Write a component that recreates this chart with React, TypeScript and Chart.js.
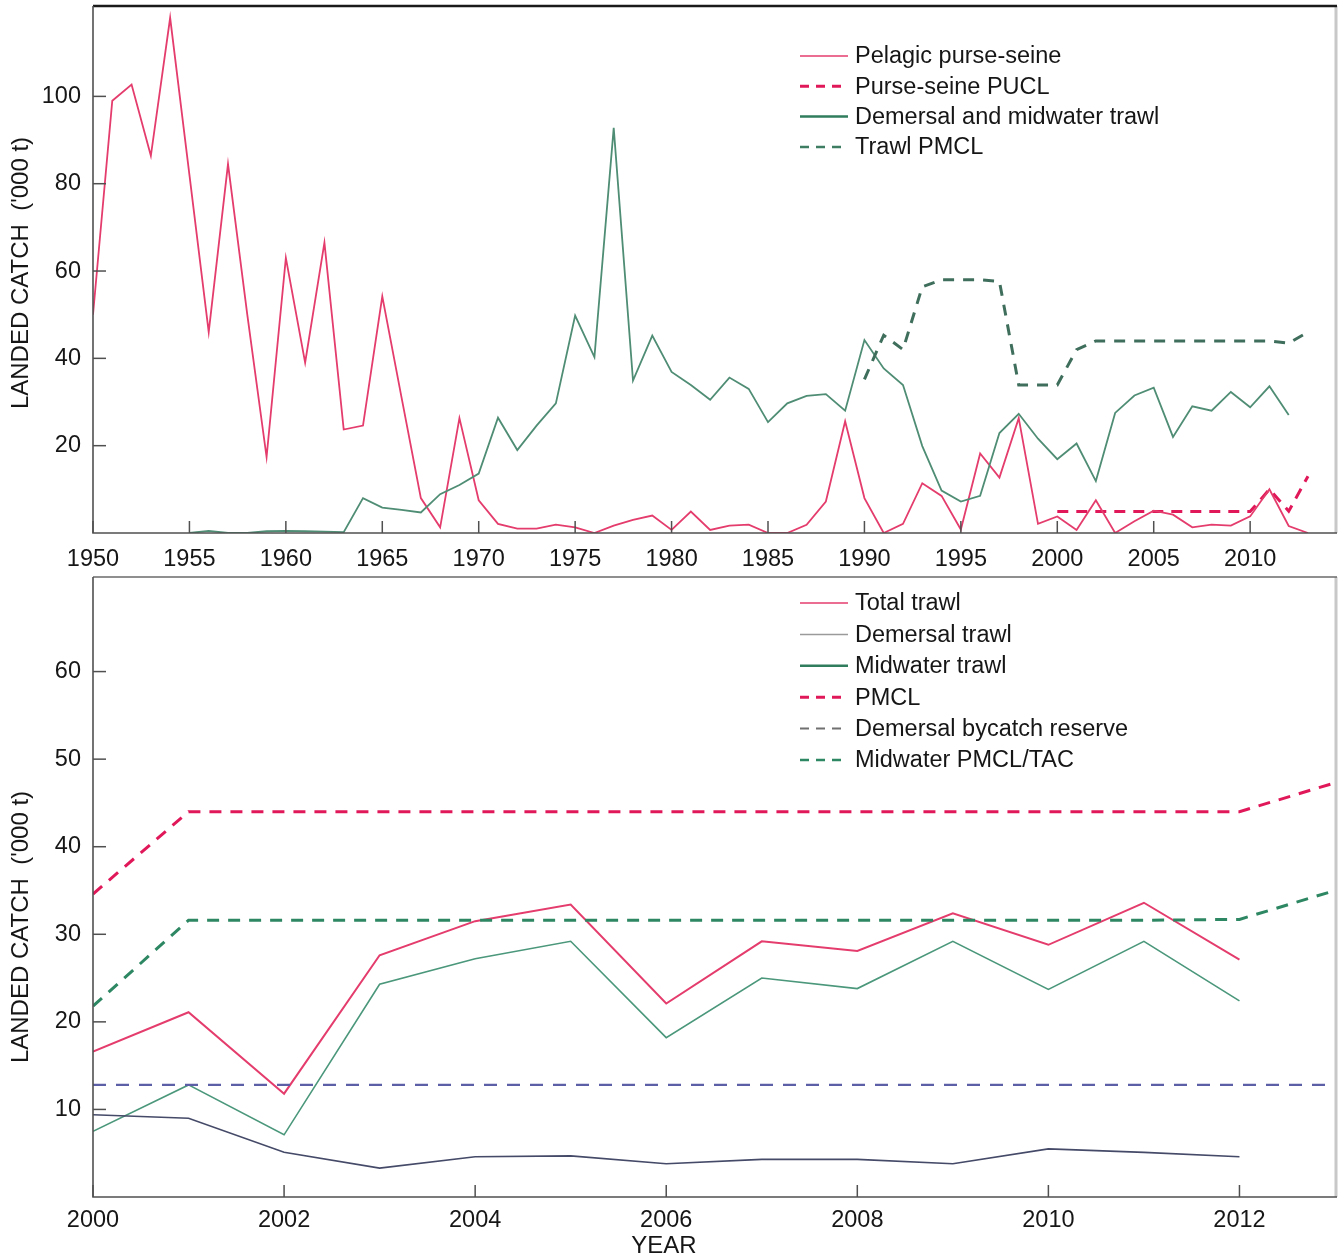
import React, { useEffect, useRef } from 'react';
import { Chart, registerables } from 'chart.js';

Chart.register(...registerables);

// ---------- Top panel data (1950-2013) ----------
const TOP_YEARS = [
  1950, 1951, 1952, 1953, 1954, 1955, 1956, 1957, 1958, 1959,
  1960, 1961, 1962, 1963, 1964, 1965, 1966, 1967, 1968, 1969,
  1970, 1971, 1972, 1973, 1974, 1975, 1976, 1977, 1978, 1979,
  1980, 1981, 1982, 1983, 1984, 1985, 1986, 1987, 1988, 1989,
  1990, 1991, 1992, 1993, 1994, 1995, 1996, 1997, 1998, 1999,
  2000, 2001, 2002, 2003, 2004, 2005, 2006, 2007, 2008, 2009,
  2010, 2011, 2012, 2013,
];
const PELAGIC = [
  50, 99, 102.7, 86.4, 118, 82, 46, 84.5, 50, 17.4,
  63, 39, 66.5, 23.7, 24.6, 54.2, 31, 8, 1.3, 26.3,
  7.5, 2.1, 1, 1, 1.9, 1.3, 0, 1.7, 3, 4,
  0.7, 4.9, 0.7, 1.7, 1.9, 0, 0, 1.9, 7.2, 25.6,
  8, 0, 2.1, 11.4, 8.5, 0.8, 18.2, 12.7, 26.3, 2.1,
  3.8, 0.7, 7.5, 0, 2.7, 5.1, 4.2, 1.3, 1.9, 1.7,
  3.8, 10, 1.6, 0,
];
const TRAWL = [
  null, null, null, null, null, 0, 0.5, 0, 0, 0.4,
  0.5, 0.4, 0.3, 0.2, 8, 5.8, 5.3, 4.7, 8.9, 11,
  13.6, 26.4, 19, 24.6, 29.7, 49.8, 40.3, 92.8, 34.9, 45.2,
  36.9, 33.9, 30.5, 35.6, 33, 25.4, 29.7, 31.4, 31.8, 28,
  44.2, 37.7, 33.9, 19.9, 9.7, 7.2, 8.5, 22.9, 27.3, 21.6,
  16.9, 20.5, 11.9, 27.5, 31.5, 33.3, 22, 29, 28, 32.3,
  28.8, 33.6, 27, null,
];
const PUCL_YEARS = [2000, 2001, 2002, 2003, 2004, 2005, 2006, 2007, 2008, 2009, 2010, 2011, 2012, 2013];
const PUCL = [4.9, 4.9, 4.9, 4.9, 4.9, 4.9, 4.9, 4.9, 4.9, 4.9, 4.9, 10, 5, 13];
const TRAWL_PMCL_YEARS = [
  1990, 1991, 1992, 1993, 1994, 1995, 1996, 1997, 1998, 1999,
  2000, 2001, 2002, 2003, 2004, 2005, 2006, 2007, 2008, 2009,
  2010, 2011, 2012, 2013,
];
const TRAWL_PMCL = [
  35.2, 45.3, 42, 56.4, 58, 58, 58, 57.6, 33.9, 33.9,
  33.9, 42, 44, 44, 44, 44, 44, 44, 44, 44,
  44, 44, 43.5, 46,
];
const TOP_X_TICKS = [1950, 1955, 1960, 1965, 1970, 1975, 1980, 1985, 1990, 1995, 2000, 2005, 2010];
const TOP_Y_TICKS = [20, 40, 60, 80, 100];

// ---------- Bottom panel data (2000-2013) ----------
const BOT_YEARS = [2000, 2001, 2002, 2003, 2004, 2005, 2006, 2007, 2008, 2009, 2010, 2011, 2012, 2013];
const TOTAL_TRAWL = [16.6, 21.1, 11.8, 27.6, 31.5, 33.4, 22.1, 29.2, 28.1, 32.4, 28.8, 33.6, 27.1, null];
const DEMERSAL_TRAWL = [9.4, 9.0, 5.1, 3.3, 4.6, 4.7, 3.8, 4.3, 4.3, 3.8, 5.5, 5.1, 4.6, null];
const MIDWATER_TRAWL = [7.5, 12.8, 7.1, 24.3, 27.2, 29.2, 18.2, 25.0, 23.8, 29.2, 23.7, 29.2, 22.4, null];
const PMCL = [34.6, 44, 44, 44, 44, 44, 44, 44, 44, 44, 44, 44, 44, 47.3];
const BYCATCH_RESERVE = [12.8, 12.8, 12.8, 12.8, 12.8, 12.8, 12.8, 12.8, 12.8, 12.8, 12.8, 12.8, 12.8, 12.8];
const MIDWATER_PMCL = [21.8, 31.6, 31.6, 31.6, 31.6, 31.6, 31.6, 31.6, 31.6, 31.6, 31.6, 31.6, 31.7, 35];
const BOT_X_TICKS = [2000, 2002, 2004, 2006, 2008, 2010, 2012];
const BOT_Y_TICKS = [10, 20, 30, 40, 50, 60];

const FONT = "'Liberation Sans', Arial, Helvetica, sans-serif";
const TEXT = '#161616';

const pts = (xs: number[], ys: (number | null)[]) => xs.map((x, i) => ({ x, y: ys[i] }));

type LegendItem = { label: string; color: string; width: number; dash: number[] };

function makePlugin(cfg: {
  legend: LegendItem[];
  legendY: number;
  legendDy: number;
  yTitleY: number;
  xTitle?: string;
  xTitleY?: number;
  topColor: string;
  topWidth: number;
}) {
  return {
    id: 'decor',
    afterDraw(chart: any) {
      const { ctx, chartArea: a, scales } = chart;
      ctx.save();
      // frame
      ctx.lineCap = 'butt';
      ctx.strokeStyle = '#c8c8c8';
      ctx.lineWidth = 3;
      ctx.beginPath();
      ctx.moveTo(a.right + 1, a.top);
      ctx.lineTo(a.right + 1, a.bottom);
      ctx.stroke();
      ctx.strokeStyle = cfg.topColor;
      ctx.lineWidth = cfg.topWidth;
      ctx.beginPath();
      ctx.moveTo(a.left, a.top);
      ctx.lineTo(a.right + 2, a.top);
      ctx.stroke();
      ctx.strokeStyle = '#505050';
      ctx.lineWidth = 1.6;
      ctx.beginPath();
      ctx.moveTo(a.left, a.top);
      ctx.lineTo(a.left, a.bottom);
      ctx.lineTo(a.right + 2, a.bottom);
      ctx.stroke();
      // inward ticks
      ctx.lineWidth = 1.5;
      scales.x.ticks.forEach((t: any) => {
        const px = scales.x.getPixelForValue(t.value);
        ctx.beginPath();
        ctx.moveTo(px, a.bottom);
        ctx.lineTo(px, a.bottom - 12);
        ctx.stroke();
      });
      scales.y.ticks.forEach((t: any) => {
        const py = scales.y.getPixelForValue(t.value);
        ctx.beginPath();
        ctx.moveTo(a.left, py);
        ctx.lineTo(a.left + 13, py);
        ctx.stroke();
      });
      // y title
      ctx.fillStyle = TEXT;
      ctx.font = `24px ${FONT}`;
      ctx.textAlign = 'center';
      ctx.textBaseline = 'middle';
      ctx.save();
      ctx.translate(21, cfg.yTitleY);
      ctx.rotate(-Math.PI / 2);
      ctx.fillText("LANDED CATCH  ('000 t)", 0, 0);
      ctx.restore();
      if (cfg.xTitle) {
        ctx.fillText(cfg.xTitle, (a.left + a.right) / 2 - 50, cfg.xTitleY);
      }
      // legend
      ctx.font = `23.5px ${FONT}`;
      ctx.textAlign = 'left';
      cfg.legend.forEach((it, i) => {
        const y = cfg.legendY + i * cfg.legendDy;
        ctx.strokeStyle = it.color;
        ctx.lineWidth = it.width;
        ctx.setLineDash(it.dash);
        ctx.beginPath();
        ctx.moveTo(800, y);
        ctx.lineTo(848, y);
        ctx.stroke();
        ctx.setLineDash([]);
        ctx.fillStyle = TEXT;
        ctx.fillText(it.label, 855, y + 1);
      });
      ctx.restore();
    },
  };
}

function zeroPad(s: any) {
  s.paddingTop = 0;
  s.paddingBottom = 0;
  s.paddingLeft = 0;
  s.paddingRight = 0;
}

function baseOptions(o: {
  xmin: number; xmax: number; ymax: number; xTicks: number[]; yTicks: number[];
  padTop: number; xHeight: number; xPad: number;
}) {
  return {
    responsive: false,
    animation: false,
    devicePixelRatio: 1,
    layout: { padding: { top: o.padTop, right: 5, left: 0, bottom: 0 } },
    plugins: { legend: { display: false }, tooltip: { enabled: false } },
    elements: { point: { radius: 0 }, line: { tension: 0 } },
    scales: {
      x: {
        type: 'linear',
        min: o.xmin,
        max: o.xmax,
        grid: { display: false, drawTicks: false },
        border: { display: false },
        afterBuildTicks: (s: any) => { s.ticks = o.xTicks.map((v) => ({ value: v })); },
        afterFit: (s: any) => { s.height = o.xHeight; zeroPad(s); },
        ticks: {
          autoSkip: false, maxRotation: 0, padding: o.xPad,
          color: TEXT, font: { family: FONT, size: 23.5 },
          callback: (v: any) => String(v),
        },
      },
      y: {
        type: 'linear',
        min: 0,
        max: o.ymax,
        grid: { display: false, drawTicks: false },
        border: { display: false },
        afterBuildTicks: (s: any) => { s.ticks = o.yTicks.map((v) => ({ value: v })); },
        afterFit: (s: any) => { s.width = 93; zeroPad(s); },
        ticks: {
          padding: 12, color: TEXT, font: { family: FONT, size: 23.5 },
          callback: (v: any) => String(v),
        },
      },
    },
  };
}

const RED = '#e43c6c';
const RED_D = '#e0185a';
const GREEN = '#4f8d75';
const GREEN_D = '#3f6f5c';

export default function App() {
  const topRef = useRef<HTMLCanvasElement>(null);
  const botRef = useRef<HTMLCanvasElement>(null);

  useEffect(() => {
    const top = new Chart(topRef.current as HTMLCanvasElement, {
      type: 'line',
      data: {
        datasets: [
          { label: 'Trawl PMCL', data: pts(TRAWL_PMCL_YEARS, TRAWL_PMCL), borderColor: GREEN_D, borderWidth: 3, borderDash: [11, 9] },
          { label: 'Demersal and midwater trawl', data: pts(TOP_YEARS, TRAWL), borderColor: GREEN, borderWidth: 1.8 },
          { label: 'Pelagic purse-seine', data: pts(TOP_YEARS, PELAGIC), borderColor: RED, borderWidth: 1.8 },
          { label: 'Purse-seine PUCL', data: pts(PUCL_YEARS, PUCL), borderColor: RED_D, borderWidth: 3, borderDash: [11, 8] },
        ],
      },
      options: baseOptions({
        xmin: 1950, xmax: 2014.4, ymax: 120.7, xTicks: TOP_X_TICKS, yTicks: TOP_Y_TICKS,
        padTop: 6, xHeight: 37, xPad: 12,
      }) as any,
      plugins: [
        makePlugin({
          legend: [
            { label: 'Pelagic purse-seine', color: RED, width: 1.5, dash: [] },
            { label: 'Purse-seine PUCL', color: RED_D, width: 3, dash: [9, 7] },
            { label: 'Demersal and midwater trawl', color: '#2f7d5c', width: 2.5, dash: [] },
            { label: 'Trawl PMCL', color: '#3f7d63', width: 2.5, dash: [9, 7] },
          ],
          legendY: 56,
          legendDy: 30.3,
          yTitleY: 273,
          topColor: '#1a1a1a',
          topWidth: 2.5,
        }),
      ],
    });

    const bot = new Chart(botRef.current as HTMLCanvasElement, {
      type: 'line',
      data: {
        datasets: [
          { label: 'Demersal bycatch reserve', data: pts(BOT_YEARS, BYCATCH_RESERVE), borderColor: '#5c5fa6', borderWidth: 2.2, borderDash: [13, 10] },
          { label: 'Midwater PMCL/TAC', data: pts(BOT_YEARS, MIDWATER_PMCL), borderColor: '#2e8763', borderWidth: 3, borderDash: [12, 9] },
          { label: 'PMCL', data: pts(BOT_YEARS, PMCL), borderColor: RED_D, borderWidth: 3, borderDash: [12, 9] },
          { label: 'Demersal trawl', data: pts(BOT_YEARS, DEMERSAL_TRAWL), borderColor: '#454a68', borderWidth: 1.6 },
          { label: 'Midwater trawl', data: pts(BOT_YEARS, MIDWATER_TRAWL), borderColor: '#4a977b', borderWidth: 1.6 },
          { label: 'Total trawl', data: pts(BOT_YEARS, TOTAL_TRAWL), borderColor: RED, borderWidth: 2 },
        ],
      },
      options: baseOptions({
        xmin: 2000, xmax: 2013, ymax: 70.8, xTicks: BOT_X_TICKS, yTicks: BOT_Y_TICKS,
        padTop: 7, xHeight: 59, xPad: 9,
      }) as any,
      plugins: [
        makePlugin({
          legend: [
            { label: 'Total trawl', color: RED, width: 1.5, dash: [] },
            { label: 'Demersal trawl', color: '#9a9a9a', width: 1.5, dash: [] },
            { label: 'Midwater trawl', color: '#2f7d5c', width: 2.5, dash: [] },
            { label: 'PMCL', color: RED_D, width: 3, dash: [9, 7] },
            { label: 'Demersal bycatch reserve', color: '#707070', width: 2, dash: [9, 7] },
            { label: 'Midwater PMCL/TAC', color: '#2e8763', width: 2.5, dash: [9, 7] },
          ],
          legendY: 33,
          legendDy: 31.4,
          yTitleY: 357,
          xTitle: 'YEAR',
          xTitleY: 676,
          topColor: '#6a6a6a',
          topWidth: 1.5,
        }),
      ],
    });

    return () => {
      top.destroy();
      bot.destroy();
    };
  }, []);

  return (
    <div style={{ position: 'absolute', left: 0, top: 0, width: 1340, height: 1256, background: '#ffffff', overflow: 'hidden' }}>
      <canvas ref={topRef} width={1340} height={570} style={{ position: 'absolute', left: 0, top: 0, width: 1340, height: 570 }} />
      <canvas ref={botRef} width={1340} height={686} style={{ position: 'absolute', left: 0, top: 570, width: 1340, height: 686 }} />
    </div>
  );
}
